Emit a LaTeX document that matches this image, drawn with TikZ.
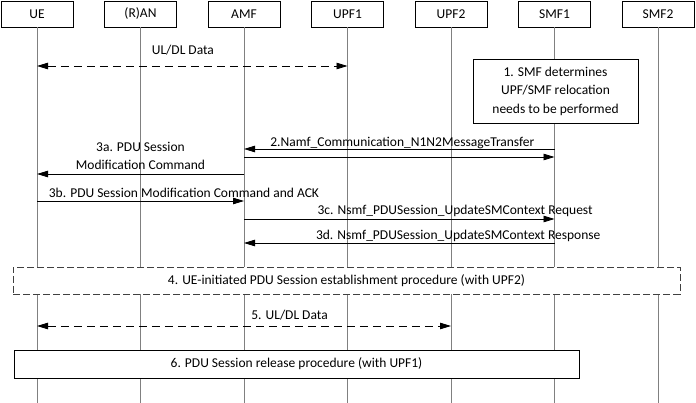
\documentclass[tikz,border=0pt]{standalone}
\usepackage{fontspec}
\setmainfont{Carlito}
\usetikzlibrary{arrows.meta}

\begin{document}
\begin{tikzpicture}[x=1pt, y=-1pt, font=\fontsize{13.5}{18.5}\selectfont,
  >={Triangle[length=11pt, width=6.5pt]},
  head/.style={draw, line width=0.9pt, minimum width=72pt, minimum height=26pt},
  life/.style={draw=gray, line width=0.9pt},
  box/.style={draw, line width=0.9pt, fill=white, align=center, inner sep=0pt},
  lbl/.style={inner sep=0pt, text depth=0pt, above=#1},
  data/.style={<->, dash pattern=on 8pt off 5pt}]
  \useasboundingbox (0,0) rectangle (696,403);
  \coordinate (bot) at (0,403);
  \foreach \n/\t [count=\i from 0] in {ue/UE, ran/(R)AN, amf/AMF, upf1/UPF1, upf2/UPF2, smf1/SMF1, smf2/SMF2}
  {
    \node[head] (\n) at (37+103.5*\i,14) {\t};
    \draw[life] (\n.south) -- (\n.south |- bot);
  }
  \coordinate (r1) at (0,66);
  \coordinate (r2) at (0,149);
  \coordinate (r2b) at (0,157);
  \coordinate (r3a) at (0,174);
  \coordinate (r3b) at (0,201);
  \coordinate (r3c) at (0,219);
  \coordinate (r3d) at (0,243);
  \coordinate (r5) at (0,326);

  \node[box, minimum width=165pt, minimum height=64pt] (s1) at (555.5,91) {1. SMF determines\\UPF/SMF relocation\\needs to be performed};
  \node[box, draw=black!75, dash pattern=on 7pt off 3pt, minimum width=667pt, minimum height=27pt] (s4) at (346.5,280.5) {4. UE-initiated PDU Session establishment procedure (with UPF2)};
  \node[box, minimum width=565pt, minimum height=28pt] (s6) at (296.5,364) {6. PDU Session release procedure (with UPF1)};

  \path[->, line width=0.9pt]
  (ue |- r1) edge[data] node[lbl=11pt, pos=0.47] {UL/DL Data} (upf1 |- r1)
  (smf1 |- r2) edge node[lbl=2pt, pos=0.49] {2.Namf\_Communication\_N1N2MessageTransfer} (amf |- r2)
  (amf |- r2b) edge (smf1 |- r2b)
  (amf |- r3a) edge node[lbl=4pt, align=center] {3a. PDU Session\\Modification Command} (ue |- r3a)
  (ue |- r3b) edge node[lbl=3pt, pos=0.71] {3b. PDU Session Modification Command and ACK} (amf |- r3b)
  (amf |- r3c) edge node[lbl=4pt, pos=0.68] {3c. Nsmf\_PDUSession\_UpdateSMContext Request} (smf1 |- r3c)
  (smf1 |- r3d) edge node[lbl=3pt, pos=0.31] {3d. Nsmf\_PDUSession\_UpdateSMContext Response} (amf |- r3d)
  (ue |- r5) edge[data] node[lbl=6pt, pos=0.61] {5. UL/DL Data} (upf2 |- r5)
  ;
\end{tikzpicture}
\end{document}
